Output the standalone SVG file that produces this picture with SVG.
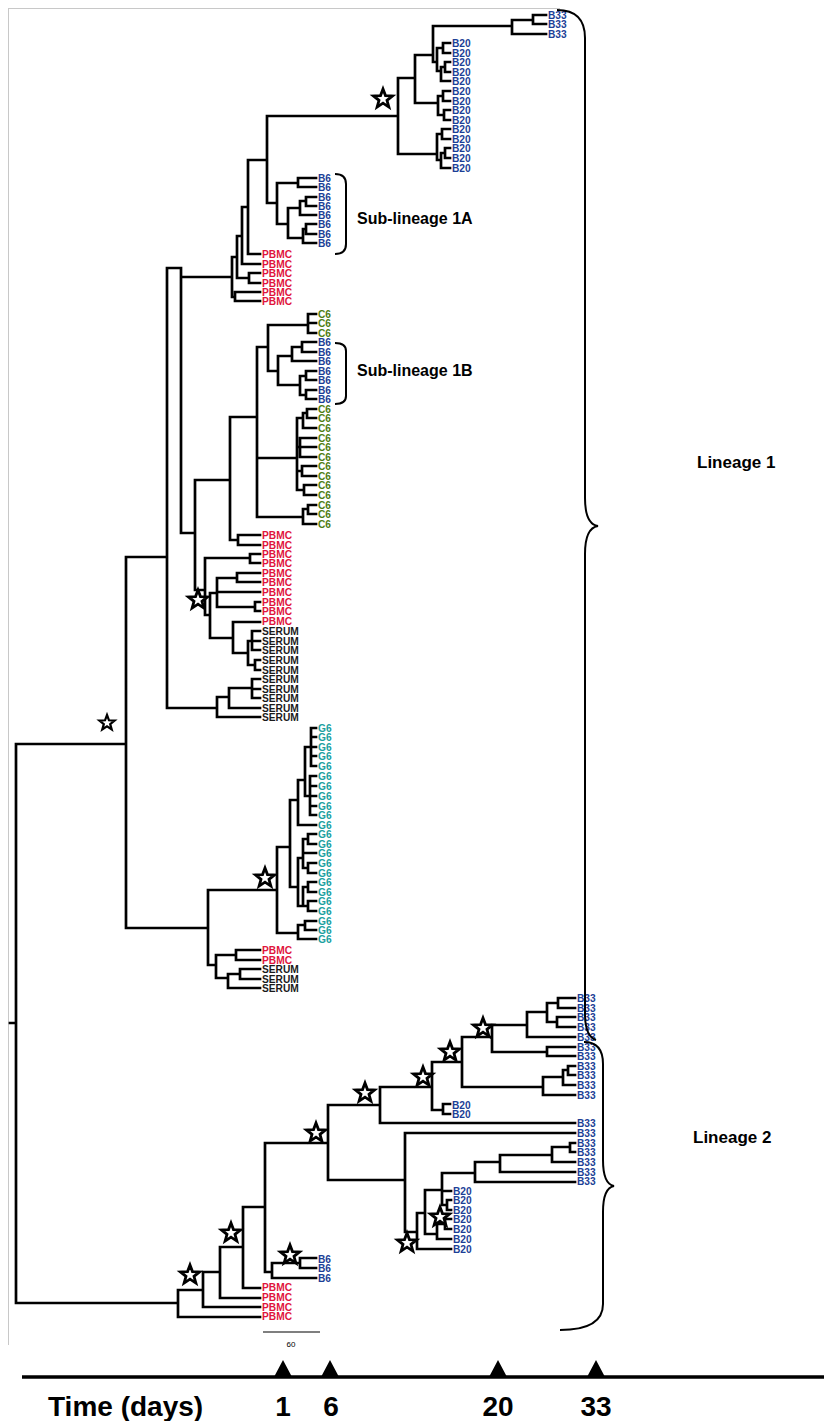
<svg xmlns="http://www.w3.org/2000/svg" width="824" height="1421" viewBox="0 0 824 1421">
<defs>
<path id="star" d="M0,-10 L2.47,-3.4 L9.51,-3.09 L3.99,1.3 L5.88,8.09 L0,4.2 L-5.88,8.09 L-3.99,1.3 L-9.51,-3.09 L-2.47,-3.4 Z"/>
<style>
.t{fill:none;stroke:#000;stroke-width:2.7;stroke-linecap:square}
.st{fill:#fff;stroke:#000;stroke-width:2.8;stroke-linejoin:miter}
text{font-family:"Liberation Sans",Arial,sans-serif;font-weight:bold}
.lf{font-size:10.2px}
.b{fill:#1c3f96}.p{fill:#e0143c}.c{fill:#4f7d10}.g{fill:#1a9fa0}.s{fill:#1a1a1a}
.lab{font-size:16px;fill:#000}
.lin{font-size:17px;fill:#000}
.ax{font-size:28px;fill:#000}
.br{fill:none;stroke:#000;stroke-width:2}
</style>
</defs>
<rect width="824" height="1421" fill="#fff"/>
<path d="M8.5 8 V1345 M8 8.5 H560" stroke="#c8c8c8" stroke-width="1" fill="none"/>
<g id="connectors">
<path class="t" d="M10 1023 H16 M16 744 V1303 M16 744 H126 M126 557 V928 M126 557 H167 M167 268 V708 M167 268 H181 M181 268 V533 M181 277 H232
M232 257 V297 M232 297 H235 M235 292 V301 M235 292 H260 M235 301 H260 M232 257 H237 M237 236 V278
M237 278 H249 M249 273 V283 M249 273 H260 M249 283 H260 M237 236 H242 M242 207 V264 M242 264 H260
M242 207 H248 M248 160 V254 M248 254 H260 M248 160 H267 M267 116 V203 M267 203 H277
M277 183 V224 M277 183 H298 M298 178 V187 M298 178 H316 M298 187 H316 M277 224 H288 M288 208 V238
M288 208 H300 M300 201 V215 M300 201 H306 M306 197 V206 M306 197 H316 M306 206 H316 M300 215 H316
M288 238 H303 M303 229 V243 M303 229 H306 M306 224 V234 M306 224 H316 M306 234 H316 M303 243 H316
M267 116 H398 M398 78 V154 M398 78 H415 M415 55 V103 M415 55 H433 M433 26 V62
M433 26 H512 M512 20 V34 M512 20 H533 M533 15 V24 M533 15 H546 M533 24 H546 M512 34 H546
M433 62 H437 M437 48 V71 M437 48 H443 M443 43 V53 M443 43 H450 M443 53 H450
M437 71 H441 M441 67 V81 M441 67 H445 M445 62 V72 M445 62 H450 M445 72 H450 M441 81 H450
M415 103 H438 M438 96 V115 M438 96 H443 M443 91 V101 M443 91 H450 M443 101 H450
M438 115 H444 M444 110 V120 M444 110 H450 M444 120 H450
M398 154 H437 M437 134 V160 M437 134 H442 M442 129 V139 M442 129 H450 M442 139 H450
M437 160 H441 M441 153 V168 M441 153 H445 M445 148 V158 M445 148 H450 M445 158 H450 M441 168 H450
M181 533 H195 M195 480 V590 M195 480 H230 M230 417 V540 M230 540 H238 M238 535 V545 M238 535 H260 M238 545 H260
M230 417 H257 M257 347 V517 M257 347 H268 M268 325 V371
M268 325 H308 M308 314 V333 M308 314 H316 M308 323 H316 M308 333 H316
M268 371 H278 M278 356 V385 M278 356 H292 M292 347 V361 M292 347 H302 M302 342 V352 M302 342 H316 M302 352 H316 M292 361 H316
M278 385 H300 M300 376 V395 M300 376 H306 M306 371 V380 M306 371 H316 M306 380 H316 M300 395 H306 M306 390 V399 M306 390 H316 M306 399 H316
M257 458 H297 M297 418 V490 M297 418 H303 M303 413 V428 M303 413 H307 M307 409 V418 M307 409 H316 M307 418 H316 M303 428 H316
M297 447 H300 M300 438 V457 M300 438 H316 M300 447 H316 M300 457 H316
M297 471 H302 M302 466 V476 M302 466 H316 M302 476 H316
M297 490 H304 M304 485 V495 M304 485 H316 M304 495 H316
M257 517 H303 M303 509 V524 M303 509 H308 M308 505 V514 M308 505 H316 M308 514 H316 M303 524 H316
M195 590 H205 M205 558 V615 M205 558 H250 M250 554 V563 M250 554 H260 M250 563 H260
M205 615 H210 M210 593 V638 M210 593 H217 M217 578 V607 M217 578 H237 M237 573 V582 M237 573 H260 M237 582 H260
M217 592 H260 M217 607 H255 M255 602 V611 M255 602 H260 M255 611 H260
M210 638 H233 M233 622 V653 M233 622 H260 M233 653 H248 M248 641 V665
M248 641 H252 M252 631 V650 M252 631 H260 M252 641 H260 M252 650 H260
M248 665 H255 M255 660 V670 M255 660 H260 M255 670 H260
M167 708 H217 M217 697 V717 M217 697 H229 M229 688 V708 M229 688 H252 M252 679 V698 M252 679 H260 M252 689 H260 M252 698 H260
M229 708 H260 M217 717 H260
M126 928 H208 M208 890 V965 M208 890 H277 M277 847 V933 M277 847 H290 M290 800 V887
M290 800 H298 M298 780 V825 M298 780 H305 M305 747 V796
M305 747 H311 M311 728 V766 M311 728 H316 M311 737 H316 M311 747 H316 M311 756 H316 M311 766 H316
M305 796 H310 M310 776 V815 M310 776 H316 M310 786 H316 M310 796 H316 M310 806 H316 M310 815 H316
M298 825 H316 M290 887 H298 M298 858 V906 M298 858 H303 M303 839 V868
M303 839 H308 M308 834 V844 M308 834 H316 M308 844 H316 M303 853 H316
M303 868 H308 M308 863 V873 M308 863 H316 M308 873 H316
M298 906 H303 M303 887 V906 M303 887 H308 M308 882 V892 M308 882 H316 M308 892 H316
M303 906 H308 M308 901 V911 M308 901 H316 M308 911 H316
M277 933 H298 M298 925 V939 M298 925 H305 M305 921 V930 M305 921 H316 M305 930 H316 M298 939 H316
M208 965 H216 M216 955 V978 M216 955 H236 M236 950 V960 M236 950 H260 M236 960 H260
M216 978 H228 M228 974 V988 M228 974 H240 M240 969 V979 M240 969 H260 M240 979 H260 M228 988 H260
M16 1303 H178 M178 1290 V1317 M178 1317 H260 M178 1290 H203 M203 1272 V1307 M203 1307 H260
M203 1272 H220 M220 1247 V1298 M220 1298 H260 M220 1247 H243 M243 1207 V1288 M243 1288 H260
M243 1207 H265 M265 1143 V1272 M265 1272 H272 M272 1263 V1278 M272 1263 H300 M300 1258 V1268 M300 1258 H316 M300 1268 H316 M272 1278 H316
M265 1143 H328 M328 1105 V1180 M328 1105 H380 M380 1087 V1123 M380 1123 H575
M380 1087 H432 M432 1062 V1110 M432 1110 H443 M443 1104 V1114 M443 1104 H450 M443 1114 H450
M432 1062 H462 M462 1037 V1087 M462 1087 H543 M543 1077 V1095 M543 1095 H575
M543 1077 H563 M563 1070 V1085 M563 1070 H568 M568 1066 V1075 M568 1066 H575 M568 1075 H575 M563 1085 H575
M462 1037 H492 M492 1025 V1052 M492 1052 H547 M547 1047 V1056 M547 1047 H575 M547 1056 H575
M492 1025 H527 M527 1012 V1037 M527 1037 H575 M527 1012 H547 M547 1003 V1022
M547 1003 H558 M558 998 V1008 M558 998 H575 M558 1008 H575 M547 1022 H557 M557 1017 V1027 M557 1017 H575 M557 1027 H575
M328 1180 H405 M405 1133 V1232 M405 1133 H575 M405 1232 H417 M417 1213 V1249 M417 1249 H451
M417 1213 H425 M425 1190 V1234 M425 1234 H437 M437 1224 V1239 M437 1224 H445 M445 1219 V1229 M445 1219 H451 M445 1229 H451 M437 1239 H451
M425 1190 H442 M442 1173 V1205 M442 1191 H451 M442 1205 H447 M447 1200 V1210 M447 1200 H451 M447 1210 H451
M442 1173 H475 M475 1162 V1182 M475 1182 H575 M475 1162 H500 M500 1155 V1172 M500 1172 H575
M500 1155 H552 M552 1147 V1162 M552 1162 H575 M552 1147 H570 M570 1143 V1152 M570 1143 H575 M570 1152 H575"/>
</g>
<g id="stars">
<use href="#star" class="st" transform="translate(383,99)"/>
<use href="#star" class="st" transform="translate(107,723) scale(0.8)"/>
<use href="#star" class="st" transform="translate(198,600)"/>
<use href="#star" class="st" transform="translate(265,878)"/>
<use href="#star" class="st" transform="translate(190,1275)"/>
<use href="#star" class="st" transform="translate(231,1233)"/>
<use href="#star" class="st" transform="translate(290,1255)"/>
<use href="#star" class="st" transform="translate(316,1133)"/>
<use href="#star" class="st" transform="translate(365,1093)"/>
<use href="#star" class="st" transform="translate(423,1077)"/>
<use href="#star" class="st" transform="translate(450,1052)"/>
<use href="#star" class="st" transform="translate(483,1028)"/>
<use href="#star" class="st" transform="translate(440,1217)"/>
<use href="#star" class="st" transform="translate(407,1243)"/>
</g>
<g id="leaves-L1-top" class="lf">
<text class="b" x="548" y="18.7">B33</text><text class="b" x="548" y="27.7">B33</text><text class="b" x="548" y="37.7">B33</text>
<text class="b" x="452" y="46.7">B20</text><text class="b" x="452" y="56.7">B20</text><text class="b" x="452" y="65.7">B20</text><text class="b" x="452" y="75.7">B20</text><text class="b" x="452" y="84.7">B20</text><text class="b" x="452" y="94.7">B20</text><text class="b" x="452" y="104.7">B20</text><text class="b" x="452" y="113.7">B20</text><text class="b" x="452" y="123.7">B20</text><text class="b" x="452" y="132.7">B20</text><text class="b" x="452" y="142.7">B20</text><text class="b" x="452" y="151.7">B20</text><text class="b" x="452" y="161.7">B20</text><text class="b" x="452" y="171.7">B20</text>
</g>
<g id="leaves-1A" class="lf">
<text class="b" x="318" y="181.7">B6</text><text class="b" x="318" y="190.7">B6</text><text class="b" x="318" y="200.7">B6</text><text class="b" x="318" y="209.7">B6</text><text class="b" x="318" y="218.7">B6</text><text class="b" x="318" y="227.7">B6</text><text class="b" x="318" y="237.7">B6</text><text class="b" x="318" y="246.7">B6</text>
<text class="p" x="262" y="257.7">PBMC</text><text class="p" x="262" y="267.7">PBMC</text><text class="p" x="262" y="276.7">PBMC</text><text class="p" x="262" y="286.7">PBMC</text><text class="p" x="262" y="295.7">PBMC</text><text class="p" x="262" y="304.7">PBMC</text>
</g>
<g id="leaves-1B" class="lf">
<text class="c" x="318" y="317.7">C6</text><text class="c" x="318" y="326.7">C6</text><text class="c" x="318" y="336.7">C6</text>
<text class="b" x="318" y="345.7">B6</text><text class="b" x="318" y="355.7">B6</text><text class="b" x="318" y="364.7">B6</text><text class="b" x="318" y="374.7">B6</text><text class="b" x="318" y="383.7">B6</text><text class="b" x="318" y="393.7">B6</text><text class="b" x="318" y="402.7">B6</text>
<text class="c" x="318" y="412.7">C6</text><text class="c" x="318" y="421.7">C6</text><text class="c" x="318" y="431.7">C6</text><text class="c" x="318" y="441.7">C6</text><text class="c" x="318" y="450.7">C6</text><text class="c" x="318" y="460.7">C6</text><text class="c" x="318" y="469.7">C6</text><text class="c" x="318" y="479.7">C6</text><text class="c" x="318" y="488.7">C6</text><text class="c" x="318" y="498.7">C6</text><text class="c" x="318" y="508.7">C6</text><text class="c" x="318" y="517.7">C6</text><text class="c" x="318" y="527.7">C6</text>
</g>
<g id="leaves-pbmc-serum" class="lf">
<text class="p" x="262" y="538.7">PBMC</text><text class="p" x="262" y="548.7">PBMC</text><text class="p" x="262" y="557.7">PBMC</text><text class="p" x="262" y="566.7">PBMC</text><text class="p" x="262" y="576.7">PBMC</text><text class="p" x="262" y="585.7">PBMC</text><text class="p" x="262" y="595.7">PBMC</text><text class="p" x="262" y="605.7">PBMC</text><text class="p" x="262" y="614.7">PBMC</text><text class="p" x="262" y="624.7">PBMC</text>
<text class="s" x="262" y="634.7">SERUM</text><text class="s" x="262" y="644.7">SERUM</text><text class="s" x="262" y="653.7">SERUM</text><text class="s" x="262" y="663.7">SERUM</text><text class="s" x="262" y="673.7">SERUM</text><text class="s" x="262" y="682.7">SERUM</text><text class="s" x="262" y="692.7">SERUM</text><text class="s" x="262" y="701.7">SERUM</text><text class="s" x="262" y="711.7">SERUM</text><text class="s" x="262" y="720.7">SERUM</text>
</g>
<g id="leaves-G6" class="lf">
<text class="g" x="318" y="731.7">G6</text><text class="g" x="318" y="740.7">G6</text><text class="g" x="318" y="750.7">G6</text><text class="g" x="318" y="759.7">G6</text><text class="g" x="318" y="769.7">G6</text><text class="g" x="318" y="779.7">G6</text><text class="g" x="318" y="789.7">G6</text><text class="g" x="318" y="799.7">G6</text><text class="g" x="318" y="809.7">G6</text><text class="g" x="318" y="818.7">G6</text><text class="g" x="318" y="828.7">G6</text><text class="g" x="318" y="837.7">G6</text><text class="g" x="318" y="847.7">G6</text><text class="g" x="318" y="856.7">G6</text><text class="g" x="318" y="866.7">G6</text><text class="g" x="318" y="876.7">G6</text><text class="g" x="318" y="885.7">G6</text><text class="g" x="318" y="895.7">G6</text><text class="g" x="318" y="904.7">G6</text><text class="g" x="318" y="914.7">G6</text><text class="g" x="318" y="924.7">G6</text><text class="g" x="318" y="933.7">G6</text><text class="g" x="318" y="942.7">G6</text>
<text class="p" x="262" y="953.7">PBMC</text><text class="p" x="262" y="963.7">PBMC</text>
<text class="s" x="262" y="972.7">SERUM</text><text class="s" x="262" y="982.7">SERUM</text><text class="s" x="262" y="991.7">SERUM</text>
</g>
<g id="leaves-L2" class="lf">
<text class="b" x="577" y="1001.7">B33</text><text class="b" x="577" y="1011.7">B33</text><text class="b" x="577" y="1020.7">B33</text><text class="b" x="577" y="1030.7">B33</text><text class="b" x="577" y="1040.7">B33</text><text class="b" x="577" y="1050.7">B33</text><text class="b" x="577" y="1059.7">B33</text><text class="b" x="577" y="1069.7">B33</text><text class="b" x="577" y="1078.7">B33</text><text class="b" x="577" y="1088.7">B33</text><text class="b" x="577" y="1098.7">B33</text>
<text class="b" x="452" y="1108.7">B20</text><text class="b" x="452" y="1117.7">B20</text>
<text class="b" x="577" y="1126.7">B33</text><text class="b" x="577" y="1136.7">B33</text><text class="b" x="577" y="1146.7">B33</text><text class="b" x="577" y="1155.7">B33</text><text class="b" x="577" y="1165.7">B33</text><text class="b" x="577" y="1175.7">B33</text><text class="b" x="577" y="1184.7">B33</text>
<text class="b" x="453" y="1194.7">B20</text><text class="b" x="453" y="1203.7">B20</text><text class="b" x="453" y="1213.7">B20</text><text class="b" x="453" y="1222.7">B20</text><text class="b" x="453" y="1232.7">B20</text><text class="b" x="453" y="1242.7">B20</text><text class="b" x="453" y="1252.7">B20</text>
<text class="b" x="318" y="1262.7">B6</text><text class="b" x="318" y="1271.7">B6</text><text class="b" x="318" y="1281.7">B6</text>
<text class="p" x="262" y="1290.7">PBMC</text><text class="p" x="262" y="1300.7">PBMC</text><text class="p" x="262" y="1310.7">PBMC</text><text class="p" x="262" y="1319.7">PBMC</text>
</g>
<g id="sublineage-1A">
<path class="br" d="M335 174 Q346 174 346 184 V244 Q346 254 335 254"/>
<text class="lab" x="357" y="224">Sub-lineage 1A</text>
</g>
<g id="sublineage-1B">
<path class="br" d="M335 343 Q346 343 346 351 V396 Q346 404 335 404"/>
<text class="lab" x="357" y="376">Sub-lineage 1B</text>
</g>
<g id="lineage-1">
<path class="br" d="M557 10 Q585 10 585 38 V498 Q585 524 598 526 Q585 528 585 554 V1014 Q585 1036 596 1040"/>
<text class="lin" x="697" y="468">Lineage 1</text>
</g>
<g id="lineage-2">
<path class="br" d="M584 1042 Q603 1042 603 1064 V1160 Q603 1184 614 1186 Q603 1188 603 1212 V1304 Q603 1330 560 1330"/>
<text class="lin" x="693" y="1143">Lineage 2</text>
</g>
<g id="scale">
<path d="M263 1332 H320" stroke="#000" stroke-width="1.2"/>
<text x="291" y="1347" font-size="8" text-anchor="middle" style="font-weight:normal">60</text>
</g>
<g id="time-axis">
<path d="M22 1377 H824" stroke="#000" stroke-width="3.5"/>
<path d="M283 1360 L292 1377 H274 Z M330 1360 L339 1377 H321 Z M498 1360 L507 1377 H489 Z M596 1360 L605 1377 H587 Z" fill="#000"/>
<text class="ax" x="48" y="1416">Time (days)</text>
<text class="ax" x="283" y="1416" text-anchor="middle">1</text>
<text class="ax" x="331" y="1416" text-anchor="middle">6</text>
<text class="ax" x="498" y="1416" text-anchor="middle">20</text>
<text class="ax" x="596" y="1416" text-anchor="middle">33</text>
</g>
</svg>
